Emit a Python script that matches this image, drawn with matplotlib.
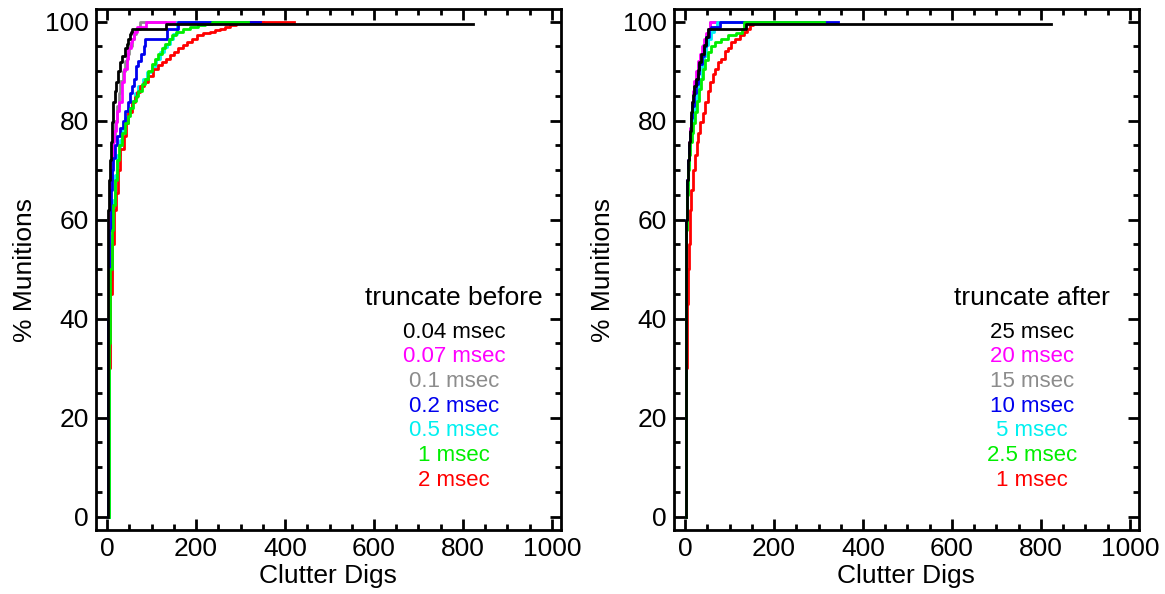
import numpy as np
import matplotlib
matplotlib.use('Agg')
import matplotlib.pyplot as plt
from matplotlib.ticker import MultipleLocator

plt.rcParams['font.family'] = ['Liberation Sans', 'DejaVu Sans']

# ---- left panel: truncate before (cumulative % munitions vs clutter digs)
before_labels = ['0.04 msec', '0.07 msec', '0.1 msec', '0.2 msec', '0.5 msec', '1 msec', '2 msec']

b_black_x = [1, 1, 2, 4, 6, 9, 10.5, 12, 14, 17, 19.5, 24, 29, 34, 40, 44, 48, 51, 54, 56, 130, 132, 822]
b_black_y = [0, 45, 62, 68, 72, 75.6, 78, 79.7, 83.7, 86, 87.8, 90, 91.9, 93, 94.6, 95.5, 96.6, 97.5, 98, 98.6, 98.6, 99.6, 99.6]

b_magenta_x = [2, 2, 4, 7, 10, 13, 16.5, 19.5, 23, 27, 33, 39, 44, 48, 53, 57, 61, 67, 85, 88, 350]
b_magenta_y = [0, 40, 60, 68, 72, 75.6, 78, 79.7, 82, 83.7, 87.8, 90.5, 92.5, 94.6, 95.8, 96.6, 98, 99, 99, 100, 100]

b_gray_x = [2, 2, 4, 7, 10, 14, 18, 22, 26, 30, 35, 40, 45, 50, 55, 60, 66, 75, 130]
b_gray_y = [0, 40, 60, 68, 72, 76, 80, 83, 85.5, 88, 90, 92, 93.5, 95, 96.5, 97.5, 98.6, 100, 100]

b_blue_x = [3, 3, 5, 8, 11, 14, 18, 22, 28, 35, 41, 46, 52, 56, 60, 65, 70, 76, 82, 85, 130, 134, 158, 160, 344]
b_blue_y = [0, 40, 58, 66, 70, 72.5, 75, 77, 78.5, 80, 82, 83.7, 85.5, 87, 88.5, 91, 92, 93.5, 95, 96.6, 96.6, 98.6, 98.6, 100, 100]

b_cyan_x = [4, 4, 7, 10, 14, 18, 23, 28, 34, 40, 47, 55, 62, 70, 80, 90, 100, 110, 120, 128, 134, 142, 149, 157, 240]
b_cyan_y = [0, 30, 48, 57, 64, 69, 73, 76, 78.5, 80.5, 82.5, 84, 85.5, 87, 88.5, 89.8, 91, 92.5, 93.8, 94.8, 95.5, 96.6, 97.6, 100, 100]

b_green_x = [4, 4, 7, 10, 13, 17, 22, 27, 33, 40, 46, 52, 58, 64, 70, 78, 85, 93, 100, 108,
             115, 123, 130, 138, 145, 155, 170, 187, 205, 220, 236, 317]
b_green_y = [0, 35, 50, 58, 63, 68, 72, 75, 77.5, 79.5, 81, 82.5, 84, 85, 86, 87.5, 88.5, 90, 91.5, 92.5,
             93.5, 94.6, 95.5, 96.6, 97.3, 98, 98.6, 99, 99.3, 99.6, 100, 100]

b_red_x = [3, 3, 6, 10, 15, 19.5, 24, 30, 37, 43, 48, 55, 62, 67, 75, 82, 92, 104, 114, 123,
           132, 142, 151, 160, 170, 179, 190, 201, 215, 231, 243, 254, 265, 276, 290, 420]
b_red_y = [0, 30, 45, 55, 62, 65.4, 70, 74.3, 77, 79.5, 81.7, 83.7, 84.8, 85.8, 87, 87.8, 89, 90.5, 91.2, 91.9,
           92.5, 93.2, 93.9, 94.6, 95.2, 95.9, 96.6, 97.3, 97.7, 98, 98.3, 98.6, 99, 99.3, 100, 100]

# ---- right panel: truncate after
after_labels = ['25 msec', '20 msec', '15 msec', '10 msec', '5 msec', '2.5 msec', '1 msec']

a_black_x = [1, 1, 2, 4, 6, 8, 11, 13, 15, 18.5, 21, 24, 28, 31, 36, 42, 47, 51, 135, 137, 822]
a_black_y = [0, 40, 60, 68, 72, 75.6, 78, 81.7, 83.7, 85.2, 87, 88.5, 90.3, 91.9, 93.5, 95.3, 97, 98.6, 98.6, 99.6, 99.6]

a_magenta_x = [1, 1, 2, 4, 6, 8, 11, 13, 15, 18, 21, 25, 29, 33, 38, 43, 48, 52, 57, 90]
a_magenta_y = [0, 40, 60, 68, 72, 75.6, 78.5, 81, 83.7, 86, 88, 90, 92, 93.5, 95, 96.6, 97.8, 98.6, 100, 100]

a_gray_x = [1, 1, 2, 4, 6, 8, 11, 13, 16, 19, 22, 26, 30, 35, 40, 46, 51, 56, 110]
a_gray_y = [0, 40, 60, 68, 72, 75.6, 78.5, 81, 83.7, 85.5, 87.5, 89.5, 91.5, 93.5, 95.3, 97, 98.6, 100, 100]

a_blue_x = [1, 1, 2, 4, 6, 8, 10, 13, 16, 20, 24, 28, 32, 37, 42, 48, 53, 58, 75, 78, 343]
a_blue_y = [0, 40, 60, 68, 72, 75, 77.5, 80.5, 83, 85.5, 87.5, 89.5, 91.5, 93, 95, 97, 98.6, 99, 99, 100, 100]

a_cyan_x = [1, 1, 2, 4, 6, 8, 11, 14, 18, 22, 26, 31, 37, 42, 46, 52, 59, 65, 72, 150]
a_cyan_y = [0, 40, 60, 67, 71, 74, 76.5, 79, 81.5, 84, 86, 88.5, 91, 93, 95.3, 96.6, 98, 99, 100, 100]

a_green_x = [1, 1, 3, 5, 7, 9, 12, 15, 18, 22, 26, 31, 35, 40, 45, 51, 58, 67, 80, 96, 115, 127, 133, 312]
a_green_y = [0, 40, 58, 65, 70, 73, 75.6, 77.5, 79.5, 81.7, 84, 86.4, 88.5, 90.5, 92.3, 93.9, 95, 95.9,
             96.6, 97.3, 97.8, 98.6, 100, 100]

a_red_x = [2, 2, 4, 6, 8, 11, 14, 18, 22, 26, 30, 34, 40, 45, 51, 56, 62, 68, 74, 81,
           89, 96, 104, 112, 123, 133, 140, 147, 152, 200]
a_red_y = [0, 30, 43, 50, 55, 62, 66, 70, 73, 75.6, 77.5, 79.7, 81.5, 83.7, 86, 87.8, 89.5, 90.5, 91.8, 92.5,
           94, 94.6, 95.9, 96.6, 97.3, 98, 98.6, 99.3, 100, 100]

line_colors = ['black', '#ff00ff', '#8c8c8c', '#0000ee', '#00f0f0', '#00ee00', '#ff0000']

before = [(b_black_x, b_black_y), (b_magenta_x, b_magenta_y), (b_gray_x, b_gray_y), (b_blue_x, b_blue_y),
          (b_cyan_x, b_cyan_y), (b_green_x, b_green_y), (b_red_x, b_red_y)]
after = [(a_black_x, a_black_y), (a_magenta_x, a_magenta_y), (a_gray_x, a_gray_y), (a_blue_x, a_blue_y),
         (a_cyan_x, a_cyan_y), (a_green_x, a_green_y), (a_red_x, a_red_y)]

# drawing order: black on top, green/blue above the other colours
draw_order = [2, 1, 4, 6, 3, 5, 0]

fig = plt.figure(figsize=(11.65, 5.94), dpi=100)
ax1 = fig.add_axes([0.0824, 0.1077, 0.399, 0.8766])
ax2 = fig.add_axes([0.5785, 0.1077, 0.399, 0.8766])


def draw_panel(ax, curves, title, labels):
    for k in draw_order:
        x, y = curves[k]
        ax.plot(x, y, drawstyle='steps-post', color=line_colors[k], lw=2.0)
    ax.set_xlim(-25, 1020)
    ax.set_ylim(-2.7, 102.5)
    ax.xaxis.set_major_locator(MultipleLocator(200))
    ax.xaxis.set_minor_locator(MultipleLocator(50))
    ax.yaxis.set_major_locator(MultipleLocator(20))
    ax.yaxis.set_minor_locator(MultipleLocator(5))
    ax.tick_params(which='both', direction='in', top=True, right=True, width=2, labelsize=19, pad=5)
    ax.tick_params(which='major', length=8)
    ax.tick_params(which='minor', length=4)
    for s in ax.spines.values():
        s.set_linewidth(2)
    ax.set_xlabel('Clutter Digs', fontsize=19, labelpad=2)
    ax.set_ylabel('% Munitions', fontsize=19, labelpad=6)

    ax.text(0.77, 0.4455, title, transform=ax.transAxes, fontsize=19, ha='center', va='center')
    for i, (lab, c) in enumerate(zip(labels, line_colors)):
        ax.text(0.77, 0.380 - i * 0.0474, lab, transform=ax.transAxes, fontsize=16,
                ha='center', va='center', color=c)


draw_panel(ax1, before, 'truncate before', before_labels)
draw_panel(ax2, after, 'truncate after', after_labels)

plt.savefig('out.png', dpi=100)
